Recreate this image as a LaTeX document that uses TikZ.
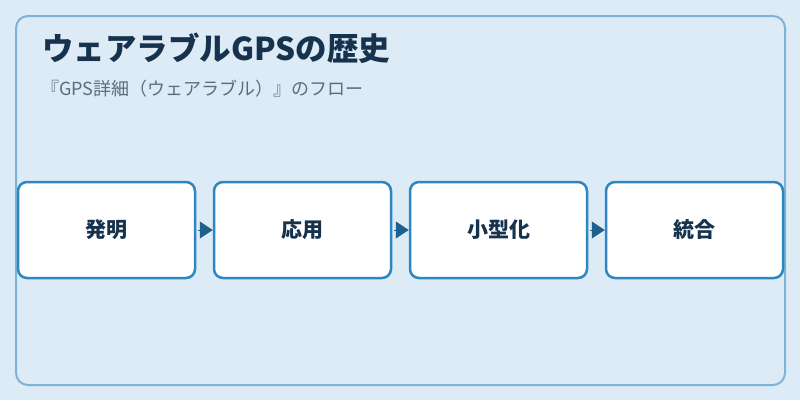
\documentclass[tikz,border=0pt]{standalone}
\usepackage{fontspec}
\setmainfont{Noto Sans CJK JP}
\usetikzlibrary{positioning, arrows.meta}
\definecolor{bgblue}{HTML}{DCEBF6}
\definecolor{frameblue}{HTML}{7FB3D5}
\definecolor{boxblue}{HTML}{2E86C1}
\definecolor{arrowblue}{HTML}{1F618D}
\definecolor{titleink}{HTML}{17324D}
\definecolor{subink}{HTML}{5D6D7E}

\begin{document}
\begin{tikzpicture}[x=1pt, y=-1pt,
flownode/.style={rectangle, rounded corners=9pt, draw=boxblue, fill=white, line width=2.5pt, minimum width=177pt, minimum height=96pt, inner sep=0pt, font=\fontsize{21}{25}\selectfont\bfseries, text=titleink},
flowarrow/.style={draw=arrowblue, line width=0.8pt, shorten <=2pt, -{Triangle[length=13pt, width=17pt]}},
]
%Background
\useasboundingbox (0,0) rectangle (800,400);
\fill[bgblue] (0,0) rectangle (800,400);
\draw[frameblue, line width=2pt, rounded corners=12pt, fill=bgblue] (16,16) rectangle (785,385);

%Titles
\node[anchor=west, inner sep=0pt, text=titleink, font=\fontsize{31.5}{36}\selectfont\bfseries] (Title) at (42,48) {ウェアラブルGPSの歴史};
\node[anchor=west, inner sep=0pt, text=subink, font=\fontsize{18}{22}\selectfont] (Subtitle) at (41,89) {『GPS詳細（ウェアラブル）』のフロー};

%Nodes
\node[flownode]      (Invention)                              at (106.5,230)     {発明};
\node[flownode]      (Application)     [right=16.5pt of Invention]     {応用};
\node[flownode]      (Miniature)       [right=16.5pt of Application]   {小型化};
\node[flownode]      (Integration)     [right=16.5pt of Miniature]     {統合};

%Lines
\draw[flowarrow] (Invention.east) -- (Application.west);
\draw[flowarrow] (Application.east) -- (Miniature.west);
\draw[flowarrow] (Miniature.east) -- (Integration.west);
\end{tikzpicture}
\end{document}
